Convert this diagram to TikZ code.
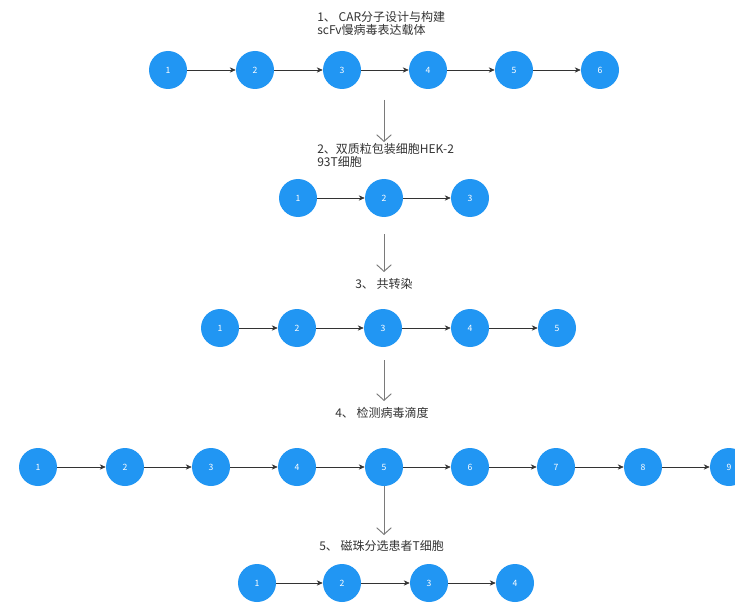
\documentclass[tikz,border=0pt]{standalone}
\usepackage{fontspec}
\setmainfont{Noto Sans CJK SC}
\usetikzlibrary{arrows.meta}
\definecolor{cblue}{HTML}{2196F3}
\definecolor{ltxt}{HTML}{333333}
\definecolor{varrow}{HTML}{7A7A7A}
\begin{document}
\begin{tikzpicture}[x=0.75pt,y=-0.75pt,
  stepcirc/.style={circle,fill=cblue,draw=none,minimum size=28.5pt,inner sep=0pt,text=white,font=\fontsize{6.5}{7}\selectfont},
  harrow/.style={draw=black!80,line width=0.5pt,-{Stealth[length=4.5pt,width=4pt]}},
  varr/.style={draw=varrow,line width=0.7pt,-{Straight Barb[length=5pt,width=11pt]}},
  steplabel/.style={anchor=north west,inner sep=0pt,align=left,text=ltxt,font=\fontsize{9}{9.75}\selectfont}]
\useasboundingbox[fill=white] (0,0) rectangle (735,606);
% row 1
\foreach \i/\x in {1/168,2/255,3/342,4/428,5/514,6/600}
  \node[stepcirc] (a\i) at (\x,70) {\i};
\foreach \i/\j in {1/2,2/3,3/4,4/5,5/6} \draw[harrow] (a\i) -- (a\j);
% row 2
\foreach \i/\x in {1/298,2/384,3/470}
  \node[stepcirc] (b\i) at (\x,198) {\i};
\foreach \i/\j in {1/2,2/3} \draw[harrow] (b\i) -- (b\j);
% row 3
\foreach \i/\x in {1/220,2/297,3/383,4/470,5/557}
  \node[stepcirc] (c\i) at (\x,328) {\i};
\foreach \i/\j in {1/2,2/3,3/4,4/5} \draw[harrow] (c\i) -- (c\j);
% row 4
\foreach \i/\x in {1/38,2/125,3/211,4/297,5/384,6/470,7/556,8/643,9/729}
  \node[stepcirc] (d\i) at (\x,467) {\i};
\foreach \i/\j in {1/2,2/3,3/4,4/5,5/6,6/7,7/8,8/9} \draw[harrow] (d\i) -- (d\j);
% row 5
\foreach \i/\x in {1/257,2/342,3/429,4/515}
  \node[stepcirc] (e\i) at (\x,583) {\i};
\foreach \i/\j in {1/2,2/3,3/4} \draw[harrow] (e\i) -- (e\j);
% labels
\node[steplabel] (l1) at (317,11) {1、 CAR分子设计与构建\\scFv慢病毒表达载体};
\node[steplabel] (l2) at (317,143) {2、双质粒包装细胞HEK-2\\93T细胞};
\node[steplabel] (l3) at (355,278) {3、 共转染};
\node[steplabel] (l4) at (335,407) {4、 检测病毒滴度};
\node[steplabel] (l5) at (319,540) {5、 磁珠分选患者T细胞};
% vertical arrows
\coordinate (v1s) at (384,100);
\coordinate (v1e) at (384,142);
\coordinate (v2s) at (384,234);
\coordinate (v2e) at (384,272);
\coordinate (v3s) at (384,360);
\coordinate (v3e) at (384,401);
\coordinate (v4e) at (384,535);
\draw[varr] (v1s) -- (v1e);
\draw[varr] (v2s) -- (v2e);
\draw[varr] (v3s) -- (v3e);
\draw[varr] (d5.south) -- (v4e);
\end{tikzpicture}
\end{document}
